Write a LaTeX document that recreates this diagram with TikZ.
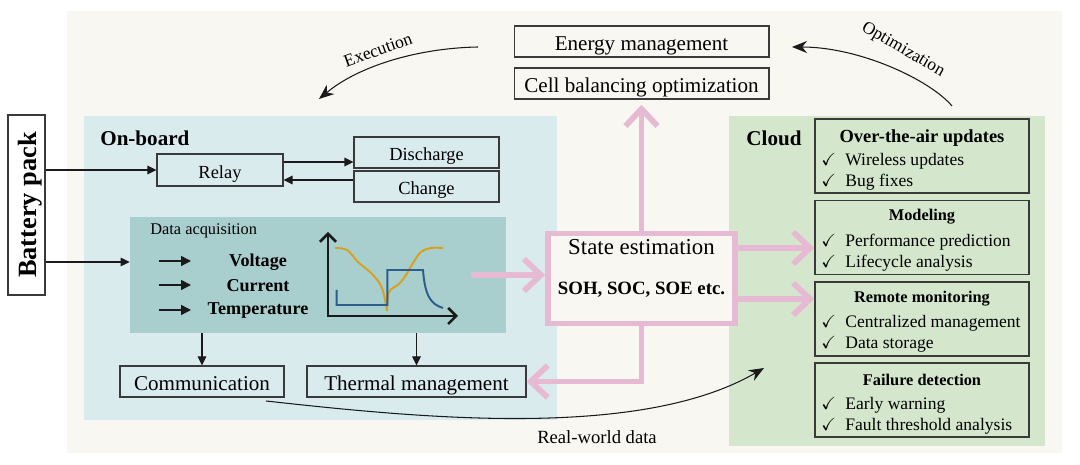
\documentclass[tikz,border=0pt]{standalone}
\usepackage{amssymb}
\usepackage{fontspec}
\setmainfont{Liberation Serif}
\usepackage{tikz}
\usetikzlibrary{arrows.meta,positioning,calc}
\definecolor{Ink}{HTML}{1A1A1A}
\definecolor{Edge}{HTML}{3A3A3A}
\definecolor{Paper}{HTML}{F8F7F2}
\definecolor{BoardBlue}{HTML}{DAEBEE}
\definecolor{AcqTeal}{HTML}{A9CECE}
\definecolor{CloudGreen}{HTML}{D4E7CD}
\definecolor{Pink}{HTML}{E7BAD4}
\definecolor{Gold}{HTML}{D6A11E}
\definecolor{Navy}{HTML}{2D5D8C}
\newcommand\ckmark{\makebox[0.48cm][l]{$\checkmark$}}

\begin{document}
\begin{tikzpicture}[x=0.02cm,y=-0.02cm,
  box/.style={draw=Edge,line width=0.6pt,inner sep=0pt,minimum height=0.62cm,text height=10.8pt,text depth=0pt,font=\fontsize{12}{14}\selectfont},
  smallbox/.style={box,text height=9.4pt,font=\fontsize{10.5}{12}\selectfont},
  cbox/.style={draw=Edge,line width=0.8pt,inner sep=0pt,minimum width=4.28cm,minimum height=1.48cm},
  ctitle/.style={font=\fontsize{9.3}{11}\selectfont\bfseries},
  citem/.style={anchor=west,inner sep=0pt,font=\fontsize{10}{12}\selectfont},
  sig/.style={font=\fontsize{10.3}{12}\selectfont\bfseries},
  arr/.style={-{Triangle[length=1.8mm,width=1.7mm]},line width=0.6pt,draw=Ink},
  pinkarr/.style={-{Straight Barb[length=3.4mm,width=6.4mm]},line width=3.3pt,draw=Pink},
  curvearr/.style={-{Stealth[length=3mm,width=2.4mm]},line width=0.6pt,draw=Ink},
  axisline/.style={{Straight Barb[length=1.6mm,width=3.2mm]}-{Straight Barb[length=1.6mm,width=3.2mm]},line width=1.5pt,draw=Ink}
]
  \useasboundingbox (0,0) rectangle (1080,465);
  % backgrounds
  \fill[Paper] (67,11) rectangle (1062,453);
  \fill[BoardBlue] (84,116) rectangle (557,420);
  \fill[CloudGreen] (729,116) rectangle (1045,446);

  % top boxes
  \node[box,fill=Paper,minimum width=5.1cm] (energy) at (641.5,41.5) {Energy management};
  \node[box,fill=Paper,minimum width=5.1cm] (cell) at (641.5,83.5) {Cell balancing optimization};

  % battery
  \node[box,fill=white,rotate=90,minimum width=3.6cm,minimum height=0.74cm,text height=11pt,font=\fontsize{15}{17}\selectfont\bfseries] (battery) at (26.5,205) {Battery pack};

  % on-board
  \node[anchor=west,inner sep=0pt,font=\fontsize{12}{14}\selectfont\bfseries] (onboard) at (100,138) {On-board};
  \node[smallbox,minimum width=2.52cm,minimum height=0.64cm] (relay) at (220,170) {Relay};
  \node[smallbox,minimum width=2.9cm] (discharge) at (426.5,152.5) {Discharge};
  \node[smallbox,minimum width=2.9cm] (change) at (426.5,186.5) {Change};

  \node[fill=AcqTeal,inner sep=0pt,minimum width=7.52cm,minimum height=2.32cm] (dacq) at (318,275) {};
  \node[anchor=west,inner sep=0pt,font=\fontsize{9.3}{11}\selectfont] (dacqlbl) at (150,231) {Data acquisition};
  \node[sig] (volt) at (258,262) {Voltage};
  \node[sig] (curr) at (258,286) {Current};
  \node[sig] (temp) at (258,311) {Temperature};
  \draw[arr,line width=0.8pt,-{Triangle[length=2mm,width=2mm]}] (159,261) -- (191,261);
  \draw[arr,line width=0.8pt,-{Triangle[length=2mm,width=2mm]}] (159,285) -- (191,285);
  \draw[arr,line width=0.8pt,-{Triangle[length=2mm,width=2mm]}] (159,310) -- (191,310);

  % little chart
  \draw[Gold,line width=1.1pt] plot[smooth,tension=0.6] coordinates {(335,248) (347,250) (358,262) (372,274) (382,288) (387,311)};
  \draw[Gold,line width=1.1pt] plot[smooth,tension=0.6] coordinates {(387,311) (389,292) (399,284) (406,275) (413,263) (421,252) (431,248) (443,248)};
  \draw[Navy,line width=1.1pt] (336.7,290) -- (336.7,305) -- (387.3,305) -- (387.3,270) -- (423,270) .. controls (425,295) and (430,304) .. (443,308);
  \draw[axisline] (328,232) -- (328,316) -- (458,316);

  \node[box,minimum width=3.28cm] (comm) at (202,381.5) {Communication};
  \node[box,minimum width=4.38cm] (thermal) at (416.5,381.5) {Thermal management};

  % state estimation
  \node[draw=Pink,line width=3.3pt,fill=Paper,inner sep=0pt,minimum width=3.74cm,minimum height=1.8cm] (state) at (641.5,278.5) {};
  \node[font=\fontsize{13}{15}\selectfont] (statelbl) at (641.5,247) {State estimation};
  \node[font=\fontsize{10.7}{13}\selectfont\bfseries] (statesub) at (641.5,290) {SOH, SOC, SOE etc.};

  % cloud
  \node[font=\fontsize{12}{14}\selectfont\bfseries] (cloud) at (774,138) {Cloud};
  \node[cbox] (ota) at (922,156) {};
  \node[ctitle,font=\fontsize{10.5}{12}\selectfont\bfseries] (otatitle) at (922,138) {Over-the-air updates};
  \node[citem] (ota1) at (821,161) {\ckmark Wireless updates};
  \node[citem] (ota2) at (821,182) {\ckmark Bug fixes};

  \node[cbox] (model) at (922,237.5) {};
  \node[ctitle] (modeltitle) at (922,217) {Modeling};
  \node[citem] (model1) at (821,242) {\ckmark Performance prediction};
  \node[citem] (model2) at (821,263) {\ckmark Lifecycle analysis};

  \node[cbox] (remote) at (922,319) {};
  \node[ctitle] (remotetitle) at (922,299) {Remote monitoring};
  \node[citem] (remote1) at (821,323) {\ckmark Centralized management};
  \node[citem] (remote2) at (821,344) {\ckmark Data storage};

  \node[cbox] (failure) at (922,400) {};
  \node[ctitle] (failtitle) at (922,380) {Failure detection};
  \node[citem] (fail1) at (821,405) {\ckmark Early warning};
  \node[citem] (fail2) at (821,426) {\ckmark Fault threshold analysis};

  % black connectors
  \draw[arr] (battery.south |- relay.west) -- (relay.west);
  \draw[arr] (battery.south |- 0,262) -- (dacq.west |- 0,262);
  \draw[arr] (relay.east |- 0,162) -- (discharge.west |- 0,162);
  \draw[arr] (change.west |- 0,180) -- (relay.east |- 0,180);
  \draw[arr] (comm.north |- dacq.south) -- (comm.north);
  \draw[arr] (thermal.north |- dacq.south) -- (thermal.north);

  % pink connectors
  \draw[pinkarr] ([xshift=-0.7cm]dacq.east |- 0,275) -- (state.west |- 0,275);
  \draw[pinkarr] (state.north) -- ([yshift=-3pt]cell.south);
  \draw[pinkarr] (state.east |- 0,248) -- (model.west |- 0,248);
  \draw[pinkarr] (state.east |- 0,299) -- (remote.west |- 0,299);
  \draw[pinkarr] (state.south) -- (state.south |- thermal.east) -- (thermal.east);

  % curved arrows
  \coordinate (exec0) at (478,47);
  \coordinate (exec1) at (319,99);
  \coordinate (opt0) at (952,106);
  \coordinate (opt1) at (792,47);
  \coordinate (rw0) at (266,401);
  \coordinate (rw1) at (764,368);
  \draw[curvearr] (exec0) .. controls (420,48) and (360,65) .. (exec1);
  \draw[curvearr] (opt0) .. controls (930,80) and (860,47) .. (opt1);
  \draw[curvearr] (rw0) .. controls (420,418) and (640,440) .. (rw1);
  \node[rotate=20,font=\fontsize{10}{12}\selectfont] (execlbl) at (378,50) {Execution};
  \node[rotate=-30,font=\fontsize{10}{12}\selectfont] (optlbl) at (903,50) {Optimization};
  \node[font=\fontsize{10.6}{12}\selectfont] (rwlbl) at (597,437) {Real-world data};
\end{tikzpicture}
\end{document}
